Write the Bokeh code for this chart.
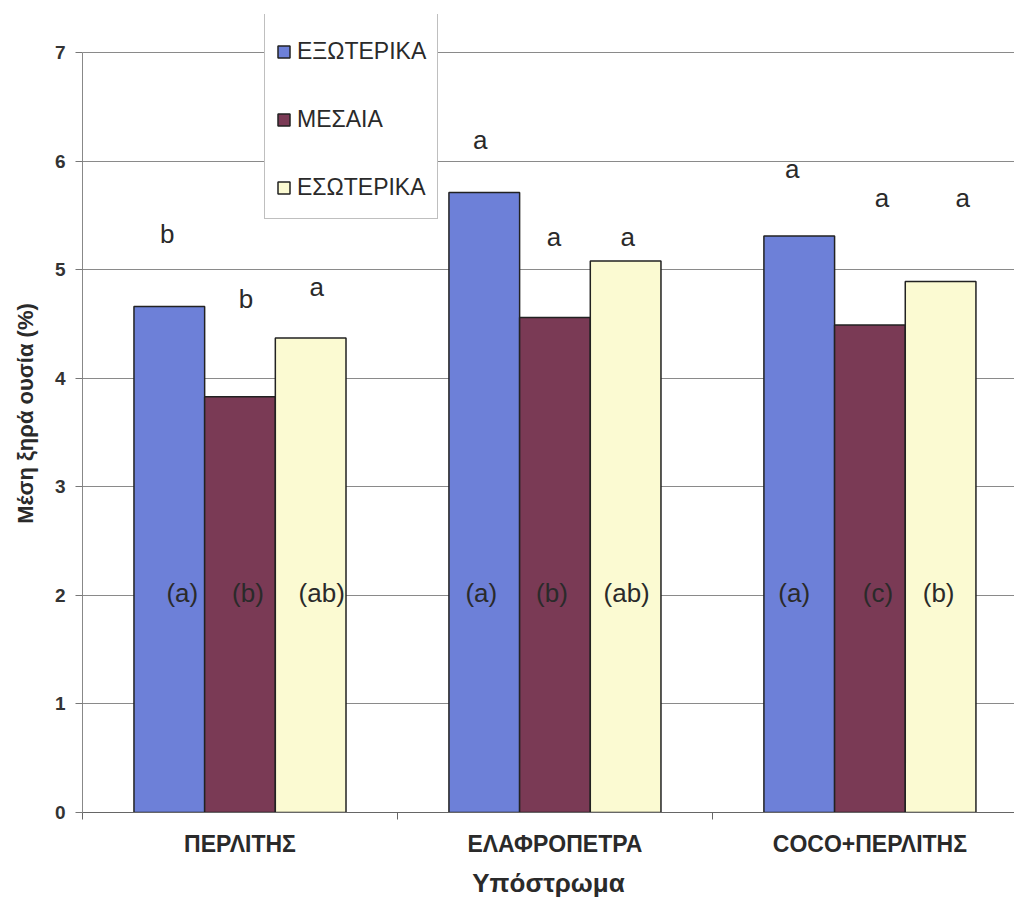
from bokeh.plotting import figure
from bokeh.models import Range1d, FixedTicker, ColumnDataSource, Legend, LegendItem
from bokeh.embed import file_html
from bokeh.resources import INLINE
from bokeh.core.properties import value

# ---- data ----
categories = ["ΠΕΡΛΙΤΗΣ", "ΕΛΑΦΡΟΠΕΤΡΑ", "COCO+ΠΕΡΛΙΤΗΣ"]
series_names = ["ΕΞΩΤΕΡΙΚΑ", "ΜΕΣΑΙΑ", "ΕΣΩΤΕΡΙΚΑ"]
exoterika = [4.66, 5.71, 5.31]
mesaia = [3.83, 4.56, 4.49]
esoterika = [4.37, 5.08, 4.89]
values_all = [exoterika, mesaia, esoterika]

# significance letters above bars (per series, across categories)
top_letters = [["b", "a", "a"], ["b", "a", "a"], ["a", "a", "a"]]
top_letter_y = [[5.33, 6.19, 5.93], [4.73, 5.30, 5.66], [4.84, 5.30, 5.66]]
# letters inside bars
inner_letters = [["(a)", "(a)", "(a)"], ["(b)", "(b)", "(c)"], ["(ab)", "(ab)", "(b)"]]
inner_letter_y = [[2.02, 2.02, 2.02], [2.02, 2.02, 2.02], [2.02, 2.02, 2.02]]

y_ticks = [0, 1, 2, 3, 4, 5, 6, 7]

# ---- style ----
colors = ["#6d80d8", "#7a3a55", "#fbfad2"]
top_x_off = [[-2, -4, -7], [6, -1, 12], [6, 2, 22]]
inner_x_off = [[13, -3, -5], [8, -3, 8], [11, 1, -2]]
bar_w = 0.2244
FONT = "Liberation Sans"

p = figure(width=1014, height=900, output_backend="svg", toolbar_location=None,
           x_range=Range1d(0, 2.959), y_range=Range1d(0, 7.35),
           min_border_left=82, min_border_right=0, min_border_top=14, min_border_bottom=88)
p.outline_line_color = None
p.background_fill_color = "white"
p.border_fill_color = "white"

renderers = []
for s in range(3):
    xs = [i + 0.5 + (s - 1) * bar_w for i in range(len(categories))]
    src = ColumnDataSource(dict(x=xs, top=values_all[s]))
    r = p.vbar(x="x", top="top", width=bar_w, bottom=0, source=src,
               fill_color=colors[s], line_color="#222222", line_width=1.5)
    renderers.append(r)
    tsrc = ColumnDataSource(dict(x=xs, y=top_letter_y[s], t=top_letters[s], xo=top_x_off[s]))
    p.text(x="x", y="y", text="t", x_offset="xo", source=tsrc, text_align="center",
           text_baseline="middle", text_font=value(FONT), text_font_size="26px",
           text_color="#2a2a2a")
    isrc = ColumnDataSource(dict(x=xs, y=inner_letter_y[s], t=inner_letters[s], xo=inner_x_off[s]))
    p.text(x="x", y="y", text="t", x_offset="xo", source=isrc, text_align="center",
           text_baseline="middle", text_font=value(FONT), text_font_size="26px",
           text_color="#2a2a2a")

# x axis
xa = p.xaxis[0]
xa.ticker = FixedTicker(ticks=[i + 0.5 for i in range(len(categories))],
                        minor_ticks=list(range(len(categories) + 1)))
xa.major_label_overrides = {i + 0.5: c for i, c in enumerate(categories)}
xa.major_tick_out = 0
xa.major_tick_in = 0
xa.minor_tick_out = 7
xa.minor_tick_in = 0
xa.minor_tick_line_color = "#666666"
xa.axis_line_color = "#666666"
xa.major_label_standoff = 11
xa.major_label_text_font = FONT
xa.major_label_text_font_style = "bold"
xa.major_label_text_font_size = "23px"
xa.major_label_text_color = "#2a2a2a"
xa.axis_label = "Υπόστρωμα"
xa.axis_label_text_font = FONT
xa.axis_label_text_font_style = "bold"
xa.axis_label_text_font_size = "26px"
xa.axis_label_text_color = "#2a2a2a"
xa.axis_label_standoff = 8

# y axis
ya = p.yaxis[0]
ya.ticker = FixedTicker(ticks=y_ticks, minor_ticks=[])
ya.bounds = (0, 7)
ya.major_tick_out = 7
ya.major_tick_in = 0
ya.major_tick_line_color = "#777777"
ya.axis_line_color = "#888888"
ya.major_label_standoff = 10
ya.major_label_text_font = FONT
ya.major_label_text_font_style = "bold"
ya.major_label_text_font_size = "19px"
ya.major_label_text_color = "#333333"
ya.axis_label = "Μέση ξηρά ουσία (%)"
ya.axis_label_text_font = FONT
ya.axis_label_text_font_style = "bold"
ya.axis_label_text_font_size = "22px"
ya.axis_label_text_color = "#2a2a2a"
ya.axis_label_standoff = 14

p.xgrid.grid_line_color = None
p.ygrid.grid_line_color = "#8a8a8a"
p.ygrid.grid_line_width = 1

legend = Legend(items=[LegendItem(label=n, renderers=[r]) for n, r in zip(series_names, renderers)],
                location=(182, 593), orientation="vertical")
legend.title = " "
legend.title_text_font_size = "9px"
legend.title_standoff = 0
legend.border_line_color = "#808080"
legend.border_line_width = 1
legend.background_fill_color = "white"
legend.background_fill_alpha = 1.0
legend.padding = 11
legend.spacing = 29
legend.label_height = 39
legend.glyph_height = 15
legend.glyph_width = 15
legend.label_standoff = 6
legend.margin = 0
legend.label_text_font = FONT
legend.label_text_font_size = "23px"
legend.label_text_color = "#2a2a2a"
p.add_layout(legend, "center")

open("out.html", "w").write(file_html(p, INLINE))
